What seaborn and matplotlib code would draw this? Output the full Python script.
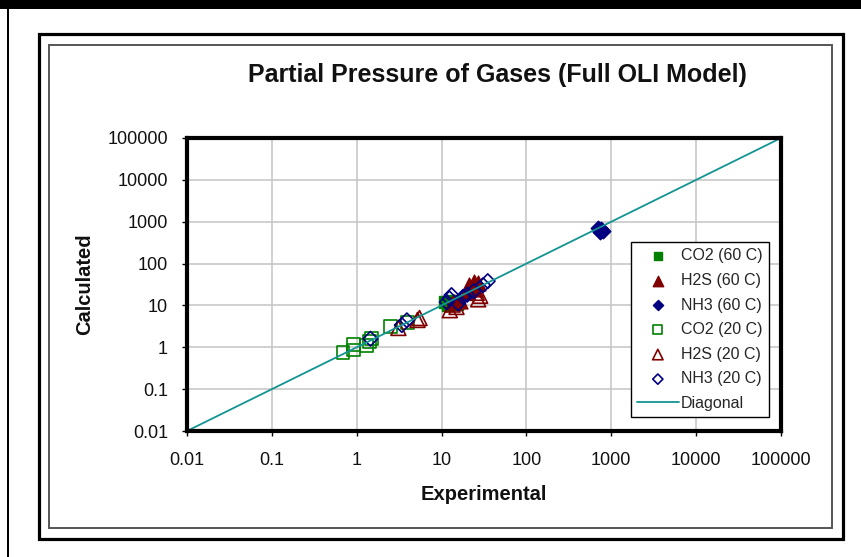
import matplotlib
matplotlib.use("Agg")
import matplotlib.pyplot as plt
from matplotlib.patches import Rectangle
import pandas as pd
import seaborn as sns

# Experimental vs calculated partial pressures for each gas / temperature
co2_60_exp = [11.0, 12.0, 13.5, 15.0]
co2_60_calc = [12.0, 10.0, 13.0, 11.0]

h2s_60_exp = [14.0, 16.5, 20.0, 21.0, 24.0, 27.0, 25.0]
h2s_60_calc = [12.0, 13.0, 21.0, 30.0, 37.0, 35.0, 25.0]

nh3_60_exp = [700.0, 760.0, 800.0, 740.0]
nh3_60_calc = [720.0, 660.0, 590.0, 560.0]

co2_20_exp = [0.69, 0.91, 0.91, 1.3, 1.4, 1.5, 2.5, 4.0]
co2_20_calc = [0.74, 0.86, 1.17, 1.1, 1.35, 1.6, 3.2, 3.9]

h2s_20_exp = [3.1, 5.5, 5.2, 12.5, 15.0, 13.5, 27.0, 28.5, 26.0]
h2s_20_calc = [2.9, 5.0, 4.5, 7.7, 9.2, 10.5, 14.0, 17.0, 20.0]

nh3_20_exp = [1.45, 3.4, 3.9, 11.5, 12.4, 13.1, 15.7, 17.9, 20.0, 24.0, 30.8, 35.0]
nh3_20_calc = [1.6, 3.4, 4.4, 12.0, 14.7, 17.6, 11.2, 16.0, 18.0, 22.0, 30.5, 38.0]

diag = [0.01, 100000]

axis_ticks = [0.01, 0.1, 1, 10, 100, 1000, 10000, 100000]
axis_labels = ["0.01", "0.1", "1", "10", "100", "1000", "10000", "100000"]

series = [
    ("CO2 (60 C)", co2_60_exp, co2_60_calc, "s", 85, "#008000", True),
    ("H2S (60 C)", h2s_60_exp, h2s_60_calc, "^", 115, "#800000", True),
    ("NH3 (60 C)", nh3_60_exp, nh3_60_calc, "D", 55, "#000080", True),
    ("CO2 (20 C)", co2_20_exp, co2_20_calc, "s", 85, "#008000", False),
    ("H2S (20 C)", h2s_20_exp, h2s_20_calc, "^", 115, "#800000", False),
    ("NH3 (20 C)", nh3_20_exp, nh3_20_calc, "D", 55, "#000080", False),
]

sns.set_theme(style="white")
plt.rcParams['font.family'] = ['Liberation Sans', 'DejaVu Sans']

W, H = 862, 557
fig = plt.figure(figsize=(W / 100, H / 100), dpi=100)
fig.patch.set_facecolor("white")

def fx(px):
    return px / W

def fy(py):
    return 1 - py / H

# page decoration: top bar, left rule, chart-area frames
fig.add_artist(Rectangle((0, fy(9)), 1, 9 / H, transform=fig.transFigure,
                         facecolor="black", edgecolor="none"))
fig.add_artist(Rectangle((fx(7.3), 0), 2 / W, fy(9), transform=fig.transFigure,
                         facecolor="black", edgecolor="none"))
fig.add_artist(Rectangle((fx(39), fy(539)), fx(843) - fx(39), fy(34) - fy(539),
                         transform=fig.transFigure, fill=False,
                         edgecolor="black", linewidth=2.3))
fig.add_artist(Rectangle((fx(49), fy(528)), fx(832) - fx(49), fy(45) - fy(528),
                         transform=fig.transFigure, fill=False,
                         edgecolor="#555555", linewidth=1.4))

ax = fig.add_axes([fx(187), fy(431), (781 - 187) / W, (431 - 138) / H])
ax.set_facecolor("white")

for label, xs, ys, marker, size, color, filled in series:
    df = pd.DataFrame({"Experimental": xs, "Calculated": ys})
    sns.scatterplot(data=df, x="Experimental", y="Calculated", marker=marker,
                    s=size, color=color, ax=ax, label=label, zorder=3)
    pts = ax.collections[-1]
    if filled:
        pts.set_facecolor(color)
        pts.set_edgecolor(color)
        pts.set_linewidth(1.0)
    else:
        pts.set_facecolor("none")
        pts.set_edgecolor(color)
        pts.set_linewidth(1.2)

sns.lineplot(x=diag, y=diag, color="#139494", linewidth=1.3, ax=ax,
             label="Diagonal", zorder=4)

ax.set_xscale("log")
ax.set_yscale("log")
ax.set_xlim(diag[0], diag[1])
ax.set_ylim(diag[0], diag[1])
ax.set_xticks(axis_ticks, axis_labels)
ax.set_yticks(axis_ticks, axis_labels)
ax.minorticks_off()
ax.grid(True, which="major", color="#c4c4c4", linewidth=1.1)
ax.set_axisbelow(True)

for sp in ax.spines.values():
    sp.set_color("black")
    sp.set_linewidth(3.0)
    sp.set_zorder(5)

ax.tick_params(axis="both", which="major", direction="out", length=3.6,
               width=1.0, color="black", labelsize=13, labelcolor="#111111")
ax.tick_params(axis="x", pad=11.5, bottom=True)
ax.tick_params(axis="y", pad=10, left=True)

ax.set_xlabel("Experimental", fontsize=14.5, fontweight="bold", color="#111111")
ax.set_ylabel("Calculated", fontsize=14.5, fontweight="bold", color="#111111")
ax.xaxis.label.set_va("center")
ax.yaxis.label.set_va("center")
ax.xaxis.set_label_coords((484 - 187) / 594, -(495 - 431) / 293)
ax.yaxis.set_label_coords(-(187 - 85) / 594, 0.5)

ax.set_title("Partial Pressure of Gases (Full OLI Model)", fontsize=18,
             fontweight="bold", color="#111111", pad=0,
             x=(497 - 187) / 594, y=(431 - 75) / 293, va="center")

leg = ax.legend(loc="upper right",
                bbox_to_anchor=((769 - 187) / 594, (431 - 242) / 293),
                borderaxespad=0, fontsize=11.5, markerscale=0.7,
                handlelength=2.6, handletextpad=0.15, borderpad=0.4,
                labelspacing=0.6, fancybox=False, framealpha=1,
                edgecolor="black")
leg.get_frame().set_linewidth(1.0)
leg.set_zorder(6)

fig.savefig("out.png", dpi=100, facecolor="white")
